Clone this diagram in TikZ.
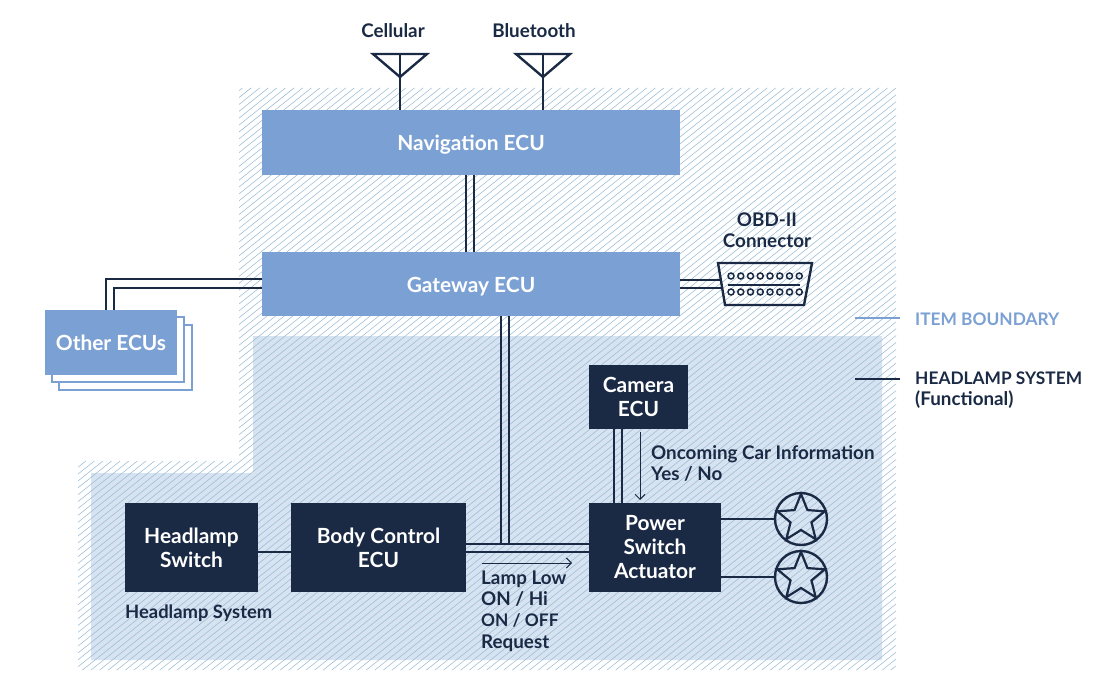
\documentclass[tikz,border=0pt]{standalone}
\usepackage{fontspec}
\setmainfont{Lato}
\usetikzlibrary{arrows.meta,calc}
\definecolor{navy}{HTML}{1A2A45}
\definecolor{midblue}{HTML}{7BA0D3}
\definecolor{paleblue}{HTML}{D7E3F0}
\definecolor{hatchc}{HTML}{9ABCD6}
\tikzset{
  x=1pt,y=-1pt,
  label text/.style={font=\bfseries\fontsize{18.8}{21.3}\selectfont,text=navy,align=left,inner sep=0pt},
  caps text/.style={font=\bfseries\fontsize{17.3}{21}\selectfont,text=navy,align=left,inner sep=0pt},
  box text/.style={font=\bfseries\fontsize{20.9}{24}\selectfont,text=white,align=center,inner sep=0pt},
  darkbox/.style={box text,fill=navy,execute at begin node={\rule{0pt}{17.5pt}}},
  wide box/.style={box text,fill=midblue,minimum width=418pt,text height=16pt,text depth=0pt},
  wire/.style={draw=navy,line width=2.4pt},
  thin wire/.style={draw=navy,line width=1pt,-{Straight Barb[length=5pt,width=10pt]}},
  stackcard/.style={draw=midblue,line width=1.6pt,fill=white},
  hatchline/.style={draw=hatchc,line width=0.55pt},
  pin/.style={circle,draw=navy,line width=1.5pt,minimum size=6pt,inner sep=0pt},
  lamp/.style={circle,draw=navy,line width=2.4pt,minimum size=52pt,inner sep=0pt}
}
\newcommand{\lampstar}[1]{%
  \draw[navy,line width=2.2pt,line join=miter]
    ($(#1)+(-90:25)$) -- ($(#1)+(-126:11)$)--($(#1)+(-162:25)$)--($(#1)+(-198:11)$)--($(#1)+(-234:25)$)--($(#1)+(-270:11)$)--($(#1)+(-306:25)$)--($(#1)+(-342:11)$)--($(#1)+(-18:25)$)--($(#1)+(-54:11)$)--cycle;}
\begin{document}
\begin{tikzpicture}
\useasboundingbox (0,0) rectangle (1102,687);
% headlamp zone
\fill[paleblue] (253,336) -- (882,336) -- (882,660) -- (91,660) -- (91,473) -- (253,473) -- cycle;
% item boundary hatch
\begin{scope}
\clip (239,88) -- (896,88) -- (896,670) -- (78,670) -- (78,461) -- (239,461) -- cycle;
\foreach \k in {0,...,180}{
  \draw[hatchline] (-600+\k*8.6,700) -- ++(840,-672);
}
\end{scope}
% other ecus
\draw[stackcard] (59,325) rectangle (192,390);
\draw[stackcard] (52,317) rectangle (184,382);
\node[box text,fill=midblue,minimum width=132pt,minimum height=65pt,text height=16pt,text depth=0pt] (other) at (111,342.5) {Other ECUs};
% boxes
\node[wide box,minimum height=65pt] (nav) at (471,142.5) {Navigation ECU};
\node[wide box,minimum height=64pt] (gw) at (471,284) {Gateway ECU};
\node[darkbox,minimum width=99pt,minimum height=64pt] (cam) at (638.5,397) {Camera\\ECU};
\node[darkbox,minimum width=133pt,minimum height=89pt] (sw) at (191.5,547.5) {Headlamp\\Switch};
\node[darkbox,minimum width=175pt,minimum height=89pt] (bcm) at (378.5,547.5) {Body Control\\ECU};
\node[darkbox,minimum width=132pt,minimum height=89pt] (psa) at (655,547.5) {Power\\Switch\\Actuator};
% antennas
\coordinate (cellbase) at (400,77);
\coordinate (btbase) at (543,77);
\draw[wire,line join=miter] (373,54) -- (427,54) -- (cellbase) -- cycle;
\draw[wire,line join=miter] (516,54) -- (570,54) -- (btbase) -- cycle;
\draw[wire] (400,54) -- (400,110);
\draw[wire] (543,54) -- (543,110);
\node[label text,anchor=center] (cell) at (393,30.5) {Cellular};
\node[label text,anchor=center] (bt) at (534,30.5) {Bluetooth};
% double wires
\draw[wire] ([xshift=-5pt]nav.south) -- ([xshift=-5pt]gw.north);
\draw[wire] ([xshift=3pt]nav.south) -- ([xshift=3pt]gw.north);
\draw[wire] (gw.west |- 0,279) -| (106,310);
\draw[wire] (gw.west |- 0,288) -| (114,310);
% connector
\node[label text,align=center,anchor=center] (obdl) at (767,230) {OBD-II\\Connector};
\draw[wire] (gw.east |- 0,280) -- (721,280);
\draw[wire] (gw.east |- 0,288) -- (723,288);
\draw[wire,line join=miter,fill=none] (718,263) -- (812,263) -- (804,305) -- (725,305) -- cycle;
\draw[navy,line width=2pt] (728,285) -- (800,285);
\foreach \i in {0,...,7}{
  \node[pin] (pa\i) at (731+\i*9.75,276) {};
  \node[pin] (pb\i) at (731+\i*9.75,292) {};
}
% gateway to bus
\coordinate (busa) at (501,544);
\coordinate (busb) at (509,544);
\draw[wire] ([xshift=30pt]gw.south) -- (busa);
\draw[wire] ([xshift=38pt]gw.south) -- (busb);
\draw[wire] (bcm.east |- 0,544) -- (psa.west |- 0,544);
\draw[wire] (bcm.east |- 0,552) -- (psa.west |- 0,552);
\draw[wire] (cam.south -| 614,0) -- (psa.north -| 614,0);
\draw[wire] (cam.south -| 622,0) -- (psa.north -| 622,0);
\draw[wire] (sw.east) ++(0,4.5) -- (bcm.west |- 0,552);
% thin arrows
\coordinate (a1s) at (640,432); \coordinate (a1e) at (640,500);
\coordinate (a2s) at (482,563); \coordinate (a2e) at (572,563);
\draw[thin wire] (a1s) -- (a1e);
\draw[thin wire] (a2s) -- (a2e);
% lamps
\node[lamp] (l1) at (801,519) {};
\node[lamp] (l2) at (801,577) {};
\lampstar{l1}
\lampstar{l2}
\draw[wire] (psa.east |- l1) -- (l1.west);
\draw[wire] (psa.east |- l2) -- (l2.west);
% labels
\node[label text,anchor=north west] (oc) at (651,445.5) {Oncoming Car Information\\Yes / No};
\node[label text,anchor=north west] (ll) at (481,570.5) {Lamp Low\\ON / Hi\\{\fontsize{17.3}{21.3}\selectfont ON / OFF}\\Request};
\node[label text,font=\bfseries\fontsize{18.4}{21.3}\selectfont,anchor=west] (hs) at (125,613) {Headlamp System};
% legend
\coordinate (ib) at (855,318);
\coordinate (hl) at (855,379);
\node[caps text,text=midblue,anchor=west] (ibt) at (915,319) {ITEM BOUNDARY};
\node[caps text,anchor=north west] (hlt) at (915,372) {HEADLAMP SYSTEM\\{\fontsize{18.8}{21}\selectfont (Functional)}};
\draw[midblue,line width=2pt] (ib) -- (900,318);
\draw[navy,line width=2pt] (hl) -- (900,379);
\end{tikzpicture}
\end{document}
